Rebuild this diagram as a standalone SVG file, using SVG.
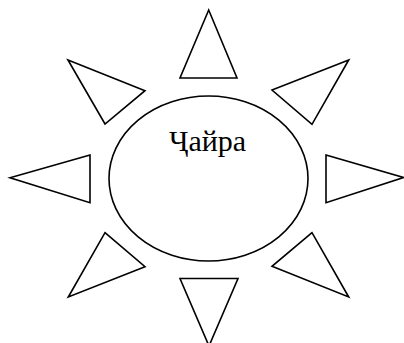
<svg xmlns="http://www.w3.org/2000/svg" width="404" height="343" viewBox="0 0 404 343">
<style>
.s{fill:#fff;stroke:#000;stroke-width:1.6;stroke-linejoin:miter}
.t{font-family:"Liberation Serif","Times New Roman",serif;font-size:30px;fill:#000}
</style>
<rect width="404" height="343" fill="#fff"/>
<g id="sun">
<ellipse class="s" cx="208.5" cy="178.5" rx="99.5" ry="82.5"/>
<text class="t" x="207.5" y="151" text-anchor="middle">Ҷайра</text>
</g>
<g id="rays">
<polygon id="ray-top" class="s" points="208.7,10 180,78 237,78"/>
<polygon id="ray-top-right" class="s" points="348.7,60 272,90 312,124.3"/>
<polygon id="ray-right" class="s" points="326,155 403.5,177.5 326,202.7"/>
<polygon id="ray-bottom-right" class="s" points="312,232.7 272,266.3 348.7,297"/>
<polygon id="ray-bottom" class="s" points="180,278.5 238,278.5 209,346"/>
<polygon id="ray-bottom-left" class="s" points="105,232.7 145,266.7 68.3,297"/>
<polygon id="ray-left" class="s" points="90,155 10,177.7 90,202.7"/>
<polygon id="ray-top-left" class="s" points="68,60 145,90.7 105,124"/>
</g>
</svg>
